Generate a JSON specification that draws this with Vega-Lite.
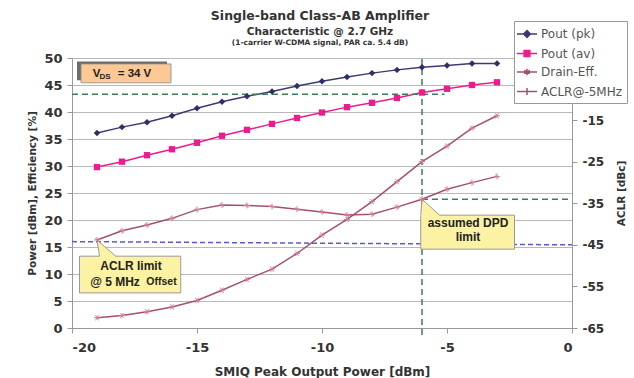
{
  "$schema": "https://vega.github.io/schema/vega-lite/v6.json",
  "width": 500,
  "height": 270,
  "autosize": {"type": "none"},
  "padding": {"left": 72, "top": 58, "right": 62, "bottom": 50},
  "background": "white",
  "title": {
    "text": "Single-band Class-AB Amplifier",
    "subtitle": "Characteristic @ 2.7 GHz",
    "font": "DejaVu Sans", "fontSize": 12.5, "fontWeight": "bold", "color": "#333333",
    "subtitleFont": "DejaVu Sans", "subtitleFontSize": 10.5, "subtitleFontWeight": "bold", "subtitleColor": "#333333",
    "subtitlePadding": 5, "anchor": "middle", "frame": "group", "offset": -17, "dx": -2
  },
  "datasets": {
    "main": [
      {"x": -19, "s": "Pout (pk)", "y": 36.1}, {"x": -18, "s": "Pout (pk)", "y": 37.2}, {"x": -17, "s": "Pout (pk)", "y": 38.1},
      {"x": -16, "s": "Pout (pk)", "y": 39.3}, {"x": -15, "s": "Pout (pk)", "y": 40.7}, {"x": -14, "s": "Pout (pk)", "y": 41.9},
      {"x": -13, "s": "Pout (pk)", "y": 42.9}, {"x": -12, "s": "Pout (pk)", "y": 43.8}, {"x": -11, "s": "Pout (pk)", "y": 44.8},
      {"x": -10, "s": "Pout (pk)", "y": 45.7}, {"x": -9, "s": "Pout (pk)", "y": 46.5}, {"x": -8, "s": "Pout (pk)", "y": 47.2},
      {"x": -7, "s": "Pout (pk)", "y": 47.8}, {"x": -6, "s": "Pout (pk)", "y": 48.3}, {"x": -5, "s": "Pout (pk)", "y": 48.6},
      {"x": -4, "s": "Pout (pk)", "y": 49.0}, {"x": -3, "s": "Pout (pk)", "y": 49.0},
      {"x": -19, "s": "Pout (av)", "y": 29.8}, {"x": -18, "s": "Pout (av)", "y": 30.8}, {"x": -17, "s": "Pout (av)", "y": 32.0},
      {"x": -16, "s": "Pout (av)", "y": 33.1}, {"x": -15, "s": "Pout (av)", "y": 34.3}, {"x": -14, "s": "Pout (av)", "y": 35.6},
      {"x": -13, "s": "Pout (av)", "y": 36.7}, {"x": -12, "s": "Pout (av)", "y": 37.8}, {"x": -11, "s": "Pout (av)", "y": 38.9},
      {"x": -10, "s": "Pout (av)", "y": 39.9}, {"x": -9, "s": "Pout (av)", "y": 40.9}, {"x": -8, "s": "Pout (av)", "y": 41.7},
      {"x": -7, "s": "Pout (av)", "y": 42.6}, {"x": -6, "s": "Pout (av)", "y": 43.6}, {"x": -5, "s": "Pout (av)", "y": 44.3},
      {"x": -4, "s": "Pout (av)", "y": 45.0}, {"x": -3, "s": "Pout (av)", "y": 45.5},
      {"x": -19, "s": "Drain-Eff.", "y": 1.9}, {"x": -18, "s": "Drain-Eff.", "y": 2.3}, {"x": -17, "s": "Drain-Eff.", "y": 3.0},
      {"x": -16, "s": "Drain-Eff.", "y": 3.9}, {"x": -15, "s": "Drain-Eff.", "y": 5.1}, {"x": -14, "s": "Drain-Eff.", "y": 7.0},
      {"x": -13, "s": "Drain-Eff.", "y": 9.0}, {"x": -12, "s": "Drain-Eff.", "y": 10.9}, {"x": -11, "s": "Drain-Eff.", "y": 13.8},
      {"x": -10, "s": "Drain-Eff.", "y": 17.2}, {"x": -9, "s": "Drain-Eff.", "y": 20.1}, {"x": -8, "s": "Drain-Eff.", "y": 23.4},
      {"x": -7, "s": "Drain-Eff.", "y": 27.1}, {"x": -6, "s": "Drain-Eff.", "y": 30.8}, {"x": -5, "s": "Drain-Eff.", "y": 33.7},
      {"x": -4, "s": "Drain-Eff.", "y": 37.0}, {"x": -3, "s": "Drain-Eff.", "y": 39.3}
    ],
    "aclr": [
      {"x": -19, "s": "ACLR@-5MHz", "v": -43.8}, {"x": -18, "s": "ACLR@-5MHz", "v": -41.6}, {"x": -17, "s": "ACLR@-5MHz", "v": -40.2},
      {"x": -16, "s": "ACLR@-5MHz", "v": -38.6}, {"x": -15, "s": "ACLR@-5MHz", "v": -36.5}, {"x": -14, "s": "ACLR@-5MHz", "v": -35.4},
      {"x": -13, "s": "ACLR@-5MHz", "v": -35.5}, {"x": -12, "s": "ACLR@-5MHz", "v": -35.75}, {"x": -11, "s": "ACLR@-5MHz", "v": -36.4},
      {"x": -10, "s": "ACLR@-5MHz", "v": -37.05}, {"x": -9, "s": "ACLR@-5MHz", "v": -37.8}, {"x": -8, "s": "ACLR@-5MHz", "v": -37.6},
      {"x": -7, "s": "ACLR@-5MHz", "v": -35.9}, {"x": -6, "s": "ACLR@-5MHz", "v": -34.0}, {"x": -5, "s": "ACLR@-5MHz", "v": -31.6},
      {"x": -4, "s": "ACLR@-5MHz", "v": -30.0}, {"x": -3, "s": "ACLR@-5MHz", "v": -28.5}
    ],
    "guides": [
      {"g": "green", "x": -20, "x2": -5.1, "y": 43.3, "y2": 43.3},
      {"g": "green", "x": -6, "x2": -6, "y": -1.3, "y2": 50},
      {"g": "green", "x": -6, "x2": 0, "y": 23.85, "y2": 23.85},
      {"g": "blue", "x": -20, "x2": 0, "y": 16.0, "y2": 15.4}
    ],
    "boxes": [
      {"b": "vds_shadow", "x": -19.8, "x2": -16.2, "y": 49.35, "y2": 45.9},
      {"b": "vds", "x": -19.64, "x2": -16.04, "y": 48.9, "y2": 45.4},
      {"b": "aclr", "x": -19.7, "x2": -15.65, "y": 13.3, "y2": 6.5},
      {"b": "dpd", "x": -6.05, "x2": -2.3, "y": 20.9, "y2": 14.6}
    ],
    "tips": [
      {"b": "aclr", "x": -19, "y": 16.3, "y2": 16.3},
      {"b": "aclr", "x": -18.9, "y": 15.9, "y2": 13.1},
      {"b": "aclr", "x": -18.25, "y": 13.3, "y2": 13.1},
      {"b": "dpd", "x": -6.05, "y": 20.9, "y2": 20.7},
      {"b": "dpd", "x": -6, "y": 23.85, "y2": 20.7},
      {"b": "dpd", "x": -5.3, "y": 20.9, "y2": 20.7}
    ],
    "edges": [
      {"x": -19, "y": 16.3, "x2": -18.9, "y2": 13.3},
      {"x": -19, "y": 16.3, "x2": -18.25, "y2": 13.3},
      {"x": -6, "y": 23.85, "x2": -6.05, "y2": 20.9},
      {"x": -6, "y": 23.85, "x2": -5.3, "y2": 20.9}
    ],
    "texts": [
      {"k": "title3", "t": "(1-carrier W-CDMA signal, PAR ca. 5.4 dB)", "x": -10.08, "y": 52.8},
      {"k": "vds", "t": "V", "x": -19.02, "y": 47.0},
      {"k": "vdssub", "t": "DS", "x": -18.68, "y": 46.45},
      {"k": "vds", "t": "= 34 V", "x": -17.5, "y": 47.0},
      {"k": "call", "t": "ACLR limit", "x": -17.64, "y": 11.48},
      {"k": "call", "t": "@ 5 MHz", "x": -18.28, "y": 8.57},
      {"k": "callsub", "t": "Offset", "x": -16.42, "y": 8.45},
      {"k": "call", "t": "assumed DPD", "x": -4.16, "y": 19.4},
      {"k": "call", "t": "limit", "x": -4.16, "y": 16.9}
    ]
  },
  "layer": [
    {
      "encoding": {
        "x": {"field": "x", "type": "quantitative", "scale": {"domain": [-20, 0], "nice": false},
          "axis": {"values": [-20, -15, -10, -5, 0], "grid": false, "title": "SMIQ Peak Output Power [dBm]",
            "labelExpr": "toString(datum.value)", "tickSize": 5, "labelPadding": 8, "titleFontSize": 12, "titlePadding": 12}},
        "y": {"field": "y", "type": "quantitative", "scale": {"domain": [0, 50], "nice": false},
          "axis": {"values": [0, 5, 10, 15, 20, 25, 30, 35, 40, 45, 50], "grid": true, "title": "Power [dBm], Efficiency [%]",
            "labelOverlap": false, "titleFontSize": 10.5, "labelFontSize": 13, "tickSize": 5, "labelPadding": 5, "titlePadding": 6}}
      },
      "layer": [
        {
          "data": {"name": "main"},
          "mark": {"type": "line", "strokeWidth": 1.5},
          "encoding": {
            "color": {"field": "s", "type": "nominal",
              "scale": {"domain": ["Pout (pk)", "Pout (av)", "Drain-Eff.", "ACLR@-5MHz"], "range": ["#3b3b73", "#ec1c8e", "#a4506e", "#a4506e"]},
              "legend": {
                "orient": "none", "legendX": 442, "legendY": -37, "title": null,
                "strokeColor": "#999999", "fillColor": "white", "padding": 4,
                "labelFont": "DejaVu Sans", "labelFontSize": 12, "labelColor": "#555555",
                "symbolSize": 256, "rowPadding": 3.5, "labelOffset": 5,
                "encode": {"symbols": {"update": {
                  "shape": {"signal": "datum.value === 'Pout (pk)' ? 'M-1.25,0L1.25,0M0,-0.42L0.42,0L0,0.42L-0.42,0Z' : datum.value === 'Pout (av)' ? 'M-1.25,0L1.25,0M-0.36,-0.36L0.36,-0.36L0.36,0.36L-0.36,0.36Z' : datum.value === 'Drain-Eff.' ? 'M-1.25,0L1.25,0M0,-0.4L0,0.4M-0.35,-0.2L0.35,0.2M-0.35,0.2L0.35,-0.2' : 'M-1.25,0L1.25,0M0,-0.45L0,0.45'"},
                  "fill": {"signal": "datum.value === 'Pout (pk)' ? '#3b3b73' : datum.value === 'Pout (av)' ? '#ec1c8e' : 'transparent'"},
                  "stroke": {"signal": "datum.value === 'Pout (pk)' ? '#3b3b73' : datum.value === 'Pout (av)' ? '#ec1c8e' : '#a4506e'"},
                  "strokeWidth": {"value": 1.5},
                  "opacity": {"value": 1}
                }}}
              }}
          }
        },
        {
          "data": {"name": "guides"},
          "transform": [{"filter": "datum.g === 'green'"}],
          "mark": {"type": "rule", "color": "#3d7d55", "strokeWidth": 1.5, "strokeDash": [6, 4]},
          "encoding": {"x2": {"field": "x2"}, "y2": {"field": "y2"}}
        },
        {
          "data": {"name": "guides"},
          "transform": [{"filter": "datum.g === 'blue'"}],
          "mark": {"type": "rule", "color": "#5a5ad0", "strokeWidth": 1.5, "strokeDash": [5, 3]},
          "encoding": {"x2": {"field": "x2"}, "y2": {"field": "y2"}}
        },
        {
          "data": {"name": "main"},
          "transform": [{"filter": "datum.s === 'Pout (pk)'"}],
          "mark": {"type": "point", "shape": "diamond", "filled": true, "size": 42, "color": "#2f2f66", "opacity": 1},
          "encoding": {}
        },
        {
          "data": {"name": "main"},
          "transform": [{"filter": "datum.s === 'Pout (av)'"}],
          "mark": {"type": "point", "shape": "square", "filled": true, "size": 40, "color": "#ec1c8e", "opacity": 1},
          "encoding": {}
        },
        {
          "data": {"name": "main"},
          "transform": [{"filter": "datum.s === 'Drain-Eff.'"}],
          "mark": {"type": "point", "shape": "M-1,0L1,0M-0.5,-0.87L0.5,0.87M-0.5,0.87L0.5,-0.87", "filled": false, "size": 36, "color": "#d47c9c", "strokeWidth": 1, "opacity": 1},
          "encoding": {}
        },
        {
          "data": {"name": "boxes"},
          "transform": [{"filter": "datum.b === 'vds_shadow'"}],
          "mark": {"type": "rect", "fill": "#6d6d6d"},
          "encoding": {"x2": {"field": "x2"}, "y2": {"field": "y2"}}
        },
        {
          "data": {"name": "boxes"},
          "transform": [{"filter": "datum.b === 'vds'"}],
          "mark": {"type": "rect", "fill": "#fcc994", "stroke": "#8a8a8a", "strokeWidth": 0.8},
          "encoding": {"x2": {"field": "x2"}, "y2": {"field": "y2"}}
        },
        {
          "data": {"name": "boxes"},
          "transform": [{"filter": "datum.b === 'aclr' || datum.b === 'dpd'"}],
          "mark": {"type": "rect", "fill": "#fbf3a3", "stroke": "#9a9a9a", "strokeWidth": 1},
          "encoding": {"x2": {"field": "x2"}, "y2": {"field": "y2"}}
        },
        {
          "data": {"name": "tips"},
          "mark": {"type": "area", "fill": "#fbf3a3", "opacity": 1},
          "encoding": {"y2": {"field": "y2"}, "detail": {"field": "b"}}
        },
        {
          "data": {"name": "edges"},
          "mark": {"type": "rule", "color": "#9a9a9a", "strokeWidth": 1},
          "encoding": {"x2": {"field": "x2"}, "y2": {"field": "y2"}}
        },
        {
          "data": {"name": "texts"},
          "transform": [{"filter": "datum.k === 'title3'"}],
          "mark": {"type": "text", "font": "DejaVu Sans", "fontSize": 7.5, "fontWeight": "bold", "color": "#333333"},
          "encoding": {"text": {"field": "t"}}
        },
        {
          "data": {"name": "texts"},
          "transform": [{"filter": "datum.k === 'vds'"}],
          "mark": {"type": "text", "font": "Liberation Sans", "fontSize": 11.5, "fontWeight": "bold", "color": "#222222"},
          "encoding": {"text": {"field": "t"}}
        },
        {
          "data": {"name": "texts"},
          "transform": [{"filter": "datum.k === 'vdssub'"}],
          "mark": {"type": "text", "font": "Liberation Sans", "fontSize": 8, "fontWeight": "bold", "color": "#222222"},
          "encoding": {"text": {"field": "t"}}
        },
        {
          "data": {"name": "texts"},
          "transform": [{"filter": "datum.k === 'call'"}],
          "mark": {"type": "text", "font": "Liberation Sans", "fontSize": 12, "fontWeight": "bold", "color": "#222222"},
          "encoding": {"text": {"field": "t"}}
        },
        {
          "data": {"name": "texts"},
          "transform": [{"filter": "datum.k === 'callsub'"}],
          "mark": {"type": "text", "font": "Liberation Sans", "fontSize": 10.5, "fontWeight": "bold", "color": "#222222"},
          "encoding": {"text": {"field": "t"}}
        }
      ]
    },
    {
      "data": {"name": "aclr"},
      "encoding": {
        "x": {"field": "x", "type": "quantitative", "scale": {"domain": [-20, 0], "nice": false},
          "axis": {"values": [-20, -15, -10, -5, 0], "grid": false, "title": "SMIQ Peak Output Power [dBm]",
            "labelExpr": "toString(datum.value)", "tickSize": 5, "labelPadding": 8, "titleFontSize": 12, "titlePadding": 12}},
        "y": {"field": "v", "type": "quantitative", "scale": {"domain": [-65, 0], "nice": false},
          "axis": {"orient": "right", "values": [-65, -55, -45, -35, -25, -15], "grid": false, "title": "ACLR [dBc]",
            "labelOverlap": false, "labelExpr": "toString(datum.value)", "labelFontSize": 12, "titleFontSize": 10.5, "titleAngle": 270,
            "tickSize": 5, "labelPadding": 5, "titlePadding": 23}}
      },
      "layer": [
        {
          "mark": {"type": "line", "strokeWidth": 1.5},
          "encoding": {
            "color": {"field": "s", "type": "nominal",
              "scale": {"domain": ["Pout (pk)", "Pout (av)", "Drain-Eff.", "ACLR@-5MHz"], "range": ["#3b3b73", "#ec1c8e", "#a4506e", "#a4506e"]}}
          }
        },
        {
          "mark": {"type": "point", "shape": "M-1,0L1,0M0,-1L0,1M-0.6,-0.6L0.6,0.6", "filled": false, "size": 36, "color": "#d47c9c", "strokeWidth": 1, "opacity": 1},
          "encoding": {}
        }
      ]
    }
  ],
  "resolve": {"scale": {"y": "independent"}},
  "config": {
    "view": {"stroke": null},
    "axis": {
      "labelFont": "DejaVu Sans", "labelFontWeight": "bold", "labelFontSize": 13, "labelColor": "#333333",
      "titleFont": "DejaVu Sans", "titleFontWeight": "bold", "titleColor": "#333333",
      "domainColor": "#999999", "tickColor": "#999999", "gridColor": "#b9b9b9", "gridWidth": 1.2
    }
  }
}
